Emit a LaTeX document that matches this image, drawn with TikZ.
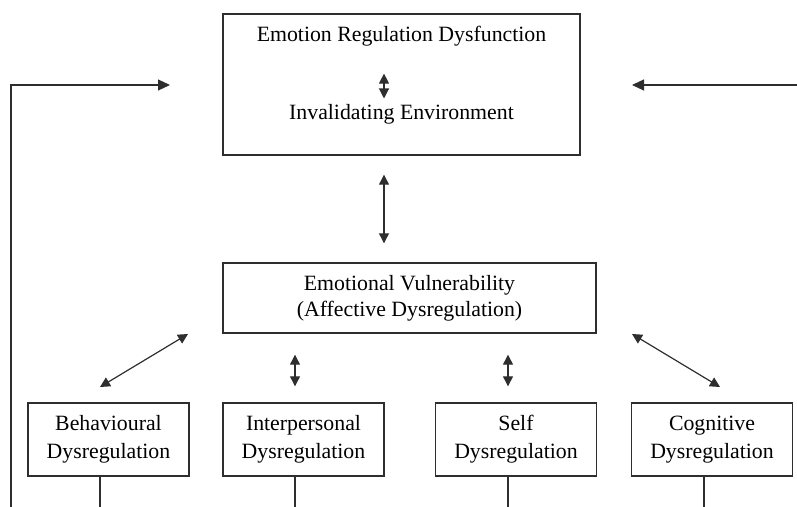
\documentclass[tikz,border=0pt]{standalone}
\usepackage{fontspec}
\setmainfont{Liberation Serif}
\usetikzlibrary{arrows.meta, positioning, calc}
\definecolor{lineink}{HTML}{2e2e2e}

\begin{document}
\begin{tikzpicture}[
  x=0.5pt, y=-0.5pt,
  box/.style={
    rectangle, draw=lineink, line width=0.7pt, inner sep=0pt,
    align=center, font=\fontsize{10.9}{13}\selectfont},
  dys/.style={
    box, minimum width=80.5pt, minimum height=36.5pt,
    font=\fontsize{10.9}{14}\selectfont},
  lbl/.style={inner sep=0pt, font=\fontsize{10.9}{13}\selectfont},
  dbl/.style={{Triangle[length=5pt, width=5pt]}-{Triangle[length=5pt, width=5pt]}, line width=0.6pt, lineink},
  fwd/.style={-{Triangle[length=6pt, width=5.5pt]}, line width=0.6pt, lineink},
  tie/.style={line width=0.6pt, lineink},
]
  \useasboundingbox (0,0) rectangle (797,507);

  \node[box, minimum width=178.5pt, minimum height=70.5pt] (top) at (401.5,84.5) {};
  \node[lbl] (erd) at (401.5,36) {Emotion Regulation Dysfunction};
  \node[lbl] (ie) at (401.5,114) {Invalidating Environment};

  \node[box, minimum width=186.5pt, minimum height=35pt] (mid) at (409.5,298)
    {Emotional Vulnerability\\(Affective Dysregulation)};

  \node[dys] (beh) at (108.5,439.5) {Behavioural\\Dysregulation};
  \node[dys] (inter) at (303.5,439.5) {Interpersonal\\Dysregulation};
  \node[dys] (self) at (516,439.5) {Self\\Dysregulation};
  \node[dys] (cog) at (712,439.5) {Cognitive\\Dysregulation};

  % columns and free ends
  \coordinate (ax) at (384,0);
  \coordinate (d1) at (100,507);
  \coordinate (d2) at (295,507);
  \coordinate (d3) at (508,507);
  \coordinate (d4) at (704,507);
  \coordinate (l1) at (188,334);
  \coordinate (l2) at (100,387);
  \coordinate (r1) at (632,334);
  \coordinate (r2) at (720,387);
  \coordinate (fl) at (11,507);
  \coordinate (fltip) at (170,85);
  \coordinate (fr) at (797,85);
  \coordinate (frtip) at (632,85);

  % two-way links
  \draw[dbl, shorten <=13.6pt, shorten >=2.6pt] (erd.south -| ax) -- (ie.north -| ax);
  \draw[dbl, shorten <=9.5pt, shorten >=9.5pt] (top.south -| ax) -- (mid.north -| ax);
  \draw[dbl, shorten <=10.5pt, shorten >=8pt] (mid.south -| d2) -- (inter.north -| d2);
  \draw[dbl, shorten <=10.5pt, shorten >=8pt] (mid.south -| d3) -- (self.north -| d3);
  \draw[dbl] (l1) -- (l2);
  \draw[dbl] (r1) -- (r2);

  % lines down
  \draw[tie] (beh.south -| d1) -- (d1);
  \draw[tie] (inter.south -| d2) -- (d2);
  \draw[tie] (self.south -| d3) -- (d3);
  \draw[tie] (cog.south -| d4) -- (d4);

  % feedback
  \draw[fwd] (fl) |- (fltip);
  \draw[fwd] (fr) -- (frtip);
\end{tikzpicture}
\end{document}
